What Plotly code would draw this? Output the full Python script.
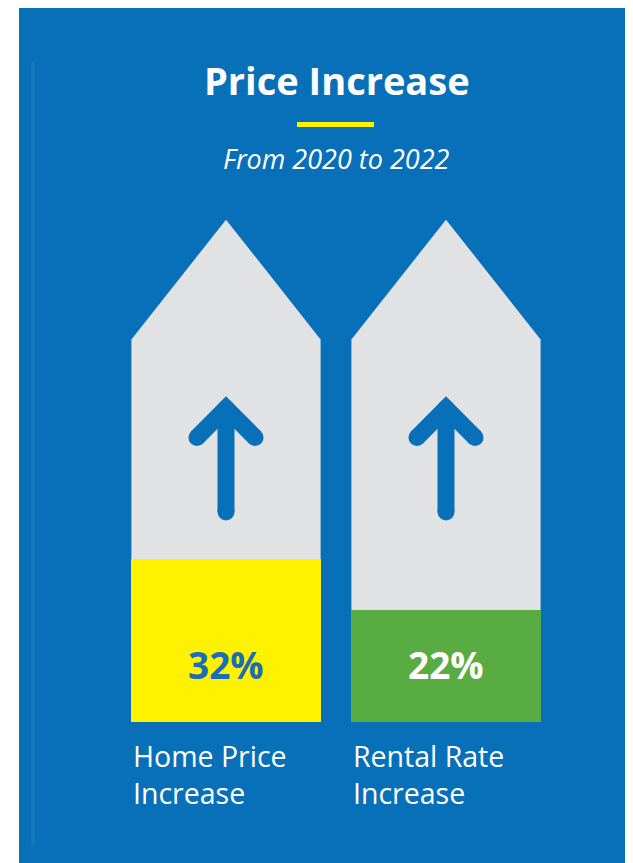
import plotly.graph_objects as go

# ---- data ----
categories = ["Home Price<br>Increase", "Rental Rate<br>Increase"]
values = [32, 22]
value_labels = ["32%", "22%"]
bar_colors = ["#FFF200", "#58AC41"]
label_colors = ["#1A6DB6", "#FFFFFF"]
title_text = "Price Increase"
subtitle_text = "From 2020 to 2022"

# ---- styling constants ----
OFF = 8                         # page body margin compensation
W, H = 633 - OFF, 863 - OFF
BLUE = "#0870B8"
GRAY = "#E1E2E4"
FONT = "Open Sans"
BAR_W = 0.86           # bar width in category units
SHOULDER = 75          # top of the rectangular part of the arrow housing (axis units)
PEAK = 98.5            # tip of the arrow housing (axis units)

def py(p):  # page pixel row -> paper fraction
    return (H - (p - OFF)) / H

def px_(p):  # page pixel column -> paper fraction
    return (p - OFF) / W

fig = go.Figure()
xs = list(range(len(categories)))
hw = BAR_W / 2

shapes = [
    dict(type="rect", xref="paper", yref="paper", x0=px_(19), x1=1.02, y0=-0.02, y1=py(6),
         fillcolor=BLUE, line=dict(width=0), layer="below"),
    dict(type="line", xref="paper", yref="paper", x0=px_(33), x1=px_(33), y0=py(62), y1=py(845),
         line=dict(color="#1A7ABF", width=3), layer="below"),
    dict(type="line", xref="paper", yref="paper", x0=px_(297), x1=px_(374), y0=py(124.5), y1=py(124.5),
         line=dict(color="#FFF200", width=5), layer="below"),
]

# gray arrow housings (below the traces)
for c in xs:
    path = (f"M {c - hw},0 L {c - hw},{SHOULDER} L {c},{PEAK} "
            f"L {c + hw},{SHOULDER} L {c + hw},0 Z")
    shapes.append(dict(type="path", xref="x", yref="y", path=path,
                       fillcolor=GRAY, line=dict(width=0), layer="below"))

# value bars
fig.add_trace(go.Bar(
    x=xs, y=values, width=BAR_W, marker=dict(color=bar_colors, line=dict(width=0)),
    hoverinfo="skip", showlegend=False))

# up-arrow icons inside the housings
ARM_DX, SHAFT_LO, SHAFT_HI, ARM_Y = 0.132, 41.2, 61.5, 55.8
for c in xs:
    fig.add_trace(go.Scatter(
        x=[c - ARM_DX, c, c + ARM_DX], y=[ARM_Y, SHAFT_HI, ARM_Y],
        mode="lines", line=dict(width=17, color=BLUE),
        hoverinfo="skip", showlegend=False))
    fig.add_trace(go.Scatter(
        x=[c, c], y=[SHAFT_HI, SHAFT_LO],
        mode="lines", line=dict(width=17, color=BLUE),
        hoverinfo="skip", showlegend=False))
    fig.add_trace(go.Scatter(
        x=[c - ARM_DX, c, c + ARM_DX, c], y=[ARM_Y, SHAFT_HI, ARM_Y, SHAFT_LO],
        mode="markers", marker=dict(size=17, color=BLUE, line=dict(width=0)),
        hoverinfo="skip", showlegend=False))

annotations = []
# value labels
for c, lab, col in zip(xs, value_labels, label_colors):
    annotations.append(dict(
        x=c, y=11.3, xref="x", yref="y", text=f"<b>{lab}</b>", showarrow=False,
        font=dict(family=FONT, size=37, color=col), xanchor="center", yanchor="middle"))
# category labels
for c, cat in zip(xs, categories):
    annotations.append(dict(
        x=c - hw, y=0, xref="x", yref="y", text=cat, showarrow=False, align="left",
        font=dict(family=FONT, size=28.5, color="white"), xanchor="left", yanchor="top",
        xshift=0, yshift=-13))
# title + subtitle
annotations.append(dict(
    x=px_(336.5), y=py(80), xref="paper", yref="paper", text=f"<b>{title_text}</b>",
    showarrow=False, font=dict(family=FONT, size=38, color="white"),
    xanchor="center", yanchor="middle"))
annotations.append(dict(
    x=px_(336.5), y=py(158), xref="paper", yref="paper", text=f"<i>{subtitle_text}</i>",
    showarrow=False, font=dict(family=FONT, size=27, color="white"),
    xanchor="center", yanchor="middle"))

fig.update_layout(
    width=W, height=H, margin=dict(l=0, r=0, t=0, b=0),
    paper_bgcolor="white", plot_bgcolor="rgba(0,0,0,0)",
    shapes=shapes, annotations=annotations, showlegend=False,
    bargap=0,
    xaxis=dict(domain=[px_(116), px_(556)], range=[-0.5, 1.5], visible=False, fixedrange=True),
    yaxis=dict(domain=[py(722), py(212)], range=[0, 100], visible=False, fixedrange=True),
)

fig.write_html("out.html", config={"displayModeBar": False})
